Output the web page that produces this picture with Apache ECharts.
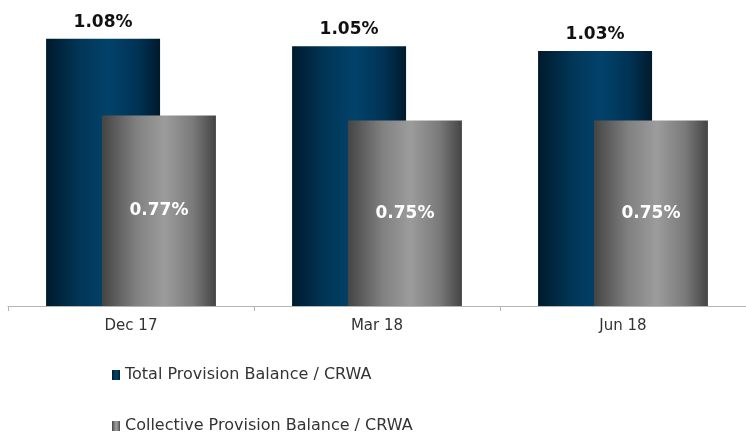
<!DOCTYPE html>
<html>
<head>
<meta charset="utf-8">
<style>
  html, body { margin: 0; padding: 0; background: #fff; }
  #chart { width: 746px; height: 432px; }
</style>
<script src="https://cdn.jsdelivr.net/npm/echarts@6/dist/echarts.min.js"></script>
</head>
<body>
<div id="chart"></div>
<script>
const categories = ['Dec 17', 'Mar 18', 'Jun 18']
const totalProvision = [1.08, 1.05, 1.03]
const collectiveProvision = [0.77, 0.75, 0.75]
const seriesNames = ['Total Provision Balance / CRWA', 'Collective Provision Balance / CRWA']

const hGradient = (stops) => new echarts.graphic.LinearGradient(0, 0, 1, 0,
  stops.map(([offset, color]) => ({ offset, color })))

const blueFill = hGradient([[0, '#001a2d'], [0.3, '#013657'], [0.55, '#02426b'], [0.8, '#013355'], [1, '#001a2c']])
const greyFill = hGradient([[0, '#444444'], [0.3, '#808080'], [0.55, '#9c9c9c'], [0.8, '#7a7a7a'], [1, '#444444']])

const chart = echarts.init(document.getElementById('chart'))

chart.setOption({
  backgroundColor: '#fff',
  animation: false,
  grid: { left: 8, top: 9, width: 741, bottom: 126, containLabel: false },
  legend: {
    orient: 'vertical',
    left: 112,
    top: 367,
    height: 100,
    padding: 0,
    itemWidth: 8,
    itemHeight: 10,
    itemGap: 35,
    icon: 'rect',
    textStyle: { fontFamily: 'DejaVu Sans', fontSize: 16, color: '#333' },
    data: seriesNames,
  },
  xAxis: {
    type: 'category',
    data: categories,
    axisLine: { show: true, lineStyle: { color: '#b5b5b5', width: 1 } },
    axisTick: { show: true, length: 5, lineStyle: { color: '#b5b5b5' } },
    axisLabel: { color: '#333', fontFamily: 'DejaVu Sans', fontSize: 15, margin: 13 },
  },
  yAxis: {
    type: 'value',
    min: 0,
    max: 1.2,
    show: false,
    splitLine: { show: false },
  },
  series: [
    {
      name: seriesNames[0],
      type: 'bar',
      data: totalProvision,
      barWidth: 114,
      barGap: '-51%',
      itemStyle: { color: blueFill },
      label: {
        show: true,
        position: 'top',
        distance: 8,
        color: '#111',
        fontFamily: 'DejaVu Sans',
        fontWeight: 'bold',
        fontSize: 17,
        formatter: (p) => p.value.toFixed(2) + '%',
      },
    },
    {
      name: seriesNames[1],
      type: 'bar',
      data: collectiveProvision,
      barWidth: 114,
      itemStyle: { color: greyFill },
      label: {
        show: true,
        position: 'inside',
        color: '#fff',
        fontFamily: 'DejaVu Sans',
        fontWeight: 'bold',
        fontSize: 17,
        formatter: (p) => p.value.toFixed(2) + '%',
      },
    },
  ],
})
</script>
</body>
</html>
